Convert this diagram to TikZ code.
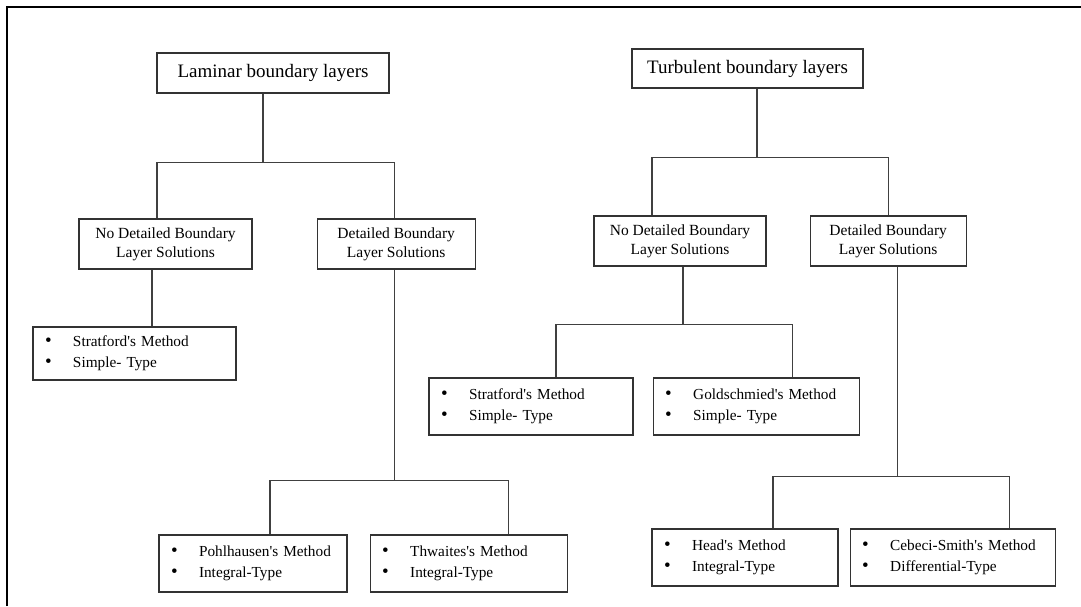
\documentclass[tikz,border=0pt]{standalone}
\usepackage{fontspec}
\setmainfont{Liberation Serif}
\usetikzlibrary{positioning}
\newcommand{\bul}[1]{\mbox{\makebox[28pt][l]{\fontsize{19}{21}\selectfont\textbullet}#1}}
\tikzset{
  root/.style={draw=black!80, line width=1.2pt, minimum height=40pt, minimum width=232pt, font=\fontsize{19}{23}\selectfont},
  branch/.style={draw=black!80, line width=1.2pt, minimum height=50pt, align=center, font=\fontsize{15.5}{19}\selectfont},
  leaf/.style={draw=black!80, line width=1.2pt, minimum height=57pt, inner xsep=12pt, align=left, text width=#1, font=\fontsize{15.3}{21}\selectfont},
  link/.style={draw=black!75, line width=1.2pt},
}
\begin{document}
\begin{tikzpicture}[x=1pt, y=1pt]
  \useasboundingbox (0,0) rectangle (1081,-606);
  \draw[line width=2.2pt] (7,-606) -- (7,-7) -- (1081,-7);
  % laminar side
  \node[root] (lam) at (273,-73) {Laminar boundary layers};
  \node[branch, minimum width=173pt] (lnd) at (165.5,-244) {No Detailed Boundary\\Layer Solutions};
  \node[branch, minimum width=158pt, right=64pt of lnd] (ld) {Detailed Boundary\\Layer Solutions};
  \node[leaf=179pt, minimum height=53pt] (ls) at (134.5,-353.5) {\bul{Stratford\textquotesingle s Method}\\\bul{Simple- Type}};
  \node[leaf=164pt] (lp) at (253,-563.5) {\bul{Pohlhausen\textquotesingle s Method}\\\bul{Integral-Type}};
  \node[leaf=173pt, right=22pt of lp] (lt) {\bul{Thwaites\textquotesingle s Method}\\\bul{Integral-Type}};
  \draw[link] ([xshift=-10pt]lam.south) -- ++(0,-69) coordinate (lamj);
  \draw[link] ([xshift=-8.5pt]lnd.north) |- (lamj) -| ([xshift=-2pt]ld.north);
  \draw[link] ([xshift=-13.5pt]lnd.south) -- ([xshift=17.5pt]ls.north);
  \draw[link] ([xshift=-2pt]ld.south) -- ++(0,-211) coordinate (ldj);
  \draw[link] ([xshift=17pt]lp.north) |- (ldj) -| ([xshift=39.5pt]lt.north);
  % turbulent side
  \node[root, minimum width=231pt, minimum height=39pt] (turb) at (747.5,-68.5) {Turbulent boundary layers};
  \node[branch, minimum width=172pt] (rnd) at (680,-241) {No Detailed Boundary\\Layer Solutions};
  \node[branch, minimum width=156pt, right=43pt of rnd] (rd) {Detailed Boundary\\Layer Solutions};
  \node[leaf=180pt] (rs) at (531,-406.5) {\bul{Stratford\textquotesingle s Method}\\\bul{Simple- Type}};
  \node[leaf=182pt, right=19pt of rs] (rg) {\bul{Goldschmied\textquotesingle s Method}\\\bul{Simple- Type}};
  \node[leaf=162pt] (rh) at (745,-557.5) {\bul{Head\textquotesingle s Method}\\\bul{Integral-Type}};
  \node[leaf=181pt, right=11pt of rh] (rc) {\bul{Cebeci-Smith\textquotesingle s Method}\\\bul{Differential-Type}};
  \draw[link] ([xshift=9.5pt]turb.south) -- ++(0,-69) coordinate (turbj);
  \draw[link] ([xshift=-28pt]rnd.north) |- (turbj) -| (rd.north);
  \draw[link] ([xshift=3pt]rnd.south) -- ++(0,-58) coordinate (rndj);
  \draw[link] ([xshift=25pt]rs.north) |- (rndj) -| ([xshift=36pt]rg.north);
  \draw[link] ([xshift=9pt]rd.south) -- ++(0,-210) coordinate (rdj);
  \draw[link] ([xshift=28pt]rh.north) |- (rdj) -| ([xshift=56.5pt]rc.north);
\end{tikzpicture}
\end{document}
